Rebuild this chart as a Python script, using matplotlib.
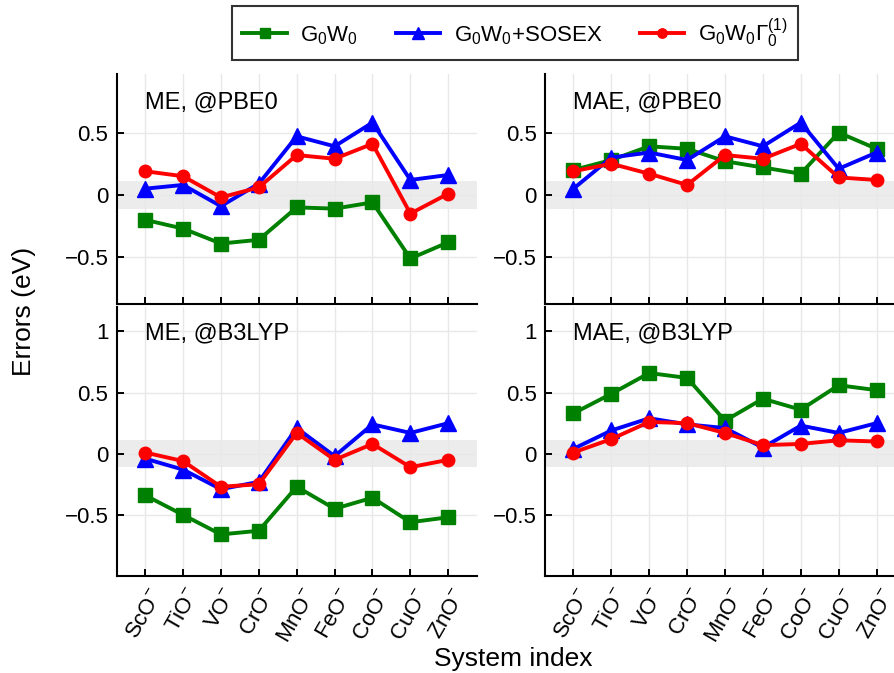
#!/usr/bin/env python3
"""Errors of G0W0 variants for 3d transition-metal monoxide anions."""

import matplotlib
matplotlib.use("Agg")
import matplotlib.pyplot as plt
from matplotlib.transforms import ScaledTranslation

plt.rcParams["font.family"] = ["Liberation Sans", "DejaVu Sans"]
plt.rcParams["mathtext.fontset"] = "custom"
plt.rcParams["mathtext.rm"] = "Liberation Sans"
plt.rcParams["mathtext.it"] = "Liberation Sans:italic"
plt.rcParams["axes.unicode_minus"] = True

systems = ["ScO", "TiO", "VO", "CrO", "MnO", "FeO", "CoO", "CuO", "ZnO"]
idx = list(range(1, len(systems) + 1))

# ME @PBE0
me_pbe0_g0w0 = [-0.20, -0.27, -0.39, -0.36, -0.10, -0.11, -0.06, -0.51, -0.38]
me_pbe0_sosex = [0.05, 0.08, -0.09, 0.09, 0.47, 0.39, 0.58, 0.12, 0.16]
me_pbe0_gamma = [0.19, 0.15, -0.02, 0.06, 0.32, 0.29, 0.41, -0.15, 0.01]

# MAE @PBE0
mae_pbe0_g0w0 = [0.20, 0.28, 0.39, 0.37, 0.27, 0.22, 0.17, 0.50, 0.37]
mae_pbe0_sosex = [0.05, 0.30, 0.34, 0.28, 0.47, 0.39, 0.58, 0.21, 0.34]
mae_pbe0_gamma = [0.19, 0.25, 0.17, 0.08, 0.32, 0.29, 0.41, 0.14, 0.12]

# ME @B3LYP
me_b3lyp_g0w0 = [-0.34, -0.50, -0.66, -0.63, -0.27, -0.45, -0.36, -0.56, -0.52]
me_b3lyp_sosex = [-0.04, -0.13, -0.29, -0.23, 0.21, -0.02, 0.24, 0.17, 0.25]
me_b3lyp_gamma = [0.01, -0.06, -0.27, -0.25, 0.17, -0.05, 0.08, -0.11, -0.05]

# MAE @B3LYP
mae_b3lyp_g0w0 = [0.33, 0.49, 0.66, 0.62, 0.27, 0.45, 0.36, 0.56, 0.52]
mae_b3lyp_sosex = [0.04, 0.19, 0.29, 0.24, 0.21, 0.05, 0.23, 0.17, 0.25]
mae_b3lyp_gamma = [0.01, 0.12, 0.26, 0.25, 0.17, 0.07, 0.08, 0.11, 0.10]

panels = [
    ("ME, @PBE0", me_pbe0_g0w0, me_pbe0_sosex, me_pbe0_gamma),
    ("MAE, @PBE0", mae_pbe0_g0w0, mae_pbe0_sosex, mae_pbe0_gamma),
    ("ME, @B3LYP", me_b3lyp_g0w0, me_b3lyp_sosex, me_b3lyp_gamma),
    ("MAE, @B3LYP", mae_b3lyp_g0w0, mae_b3lyp_sosex, mae_b3lyp_gamma),
]

labels = [r"G$_0$W$_0$", r"G$_0$W$_0$+SOSEX", r"G$_0$W$_0\Gamma_0^{(1)}$"]
styles = [("#008000", "s", 10), ("#0000ff", "^", 11), ("#ff0000", "o", 9)]

W, H = 894, 673
fig = plt.figure(figsize=(W / 100, H / 100), dpi=100)


def px_axes(x0, x1, y0, y1):
    return fig.add_axes([x0 / W, 1 - y1 / H, (x1 - x0) / W, (y1 - y0) / H])


axes = [
    px_axes(116.7, 476.7, 74, 304),
    px_axes(545, 905, 74, 304),
    px_axes(116.7, 476.7, 307, 576),
    px_axes(545, 905, 307, 576),
]

yticks = [-0.5, 0, 0.5, 1]
ytick_labels = ["\u22120.5", "0", "0.5", "1"]
shift = ScaledTranslation(5 / 100, 0, fig.dpi_scale_trans)

handles = []
for k, (ax, (title, *series)) in enumerate(zip(axes, panels)):
    top = k < 2
    ax.axhspan(-0.11, 0.11, color="#ececec", zorder=0, lw=0)
    for vals, (col, mk, ms), lab in zip(series, styles, labels):
        h, = ax.plot(idx, vals, "-", color=col, lw=2.8, marker=mk, ms=ms,
                     mec=col, mfc=col, label=lab, zorder=3)
        if k == 0:
            handles.append(h)
    ax.set_xticks(idx)
    if top:
        ax.set_xticklabels([])
    else:
        ax.set_xticklabels([s + r"$^{-}$" for s in systems], rotation=60,
                           ha="center", va="top", fontsize=16)
        for lbl in ax.get_xticklabels():
            lbl.set_transform(lbl.get_transform() + shift)
    ax.set_yticks(yticks)
    ax.set_yticklabels(ytick_labels, fontsize=16)
    ax.set_xlim(0.25, 9.75)
    ax.set_ylim((-0.875, 0.97) if top else (-1.0, 1.2))
    ax.grid(True, color="#e8e8e8", lw=1.0, zorder=1)
    ax.set_axisbelow(True)
    ax.tick_params(direction="in", length=5, width=1.4, pad=6)
    ax.tick_params(axis="x", pad=6.5)
    for s in ["top", "right"]:
        ax.spines[s].set_visible(False)
    for s in ["left", "bottom"]:
        ax.spines[s].set_linewidth(1.5)
    ax.text(0.079, 0.878 if top else 0.903, title, transform=ax.transAxes,
            fontsize=17, ha="left", va="center")

fig.text(24 / W, 1 - 311 / H, "Errors (eV)", rotation=90, fontsize=19,
         ha="center", va="center")
fig.text(513 / W, 1 - 659 / H, "System index", fontsize=19,
         ha="center", va="center")

leg = fig.legend(handles=handles, loc="center", ncol=3,
                 bbox_to_anchor=(515 / W, 1 - 33 / H), fontsize=16,
                 frameon=True, fancybox=False, edgecolor="black",
                 handlelength=2.0, columnspacing=1.7, handletextpad=0.6,
                 borderpad=0.45, markerscale=0.75)
leg.get_frame().set_linewidth(1.5)

fig.savefig("out.png", dpi=100)
